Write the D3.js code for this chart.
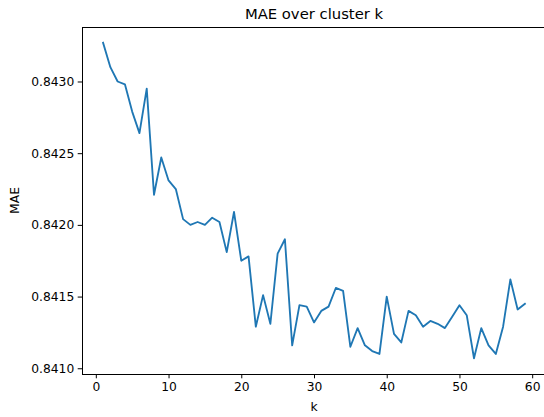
<!DOCTYPE html>
<html>
<head>
<meta charset="utf-8">
<script src="https://cdn.jsdelivr.net/npm/d3@7"></script>
<style>
  html, body { margin: 0; padding: 0; background: #fff; }
  svg { display: block; font-family: "DejaVu Sans", sans-serif; }
</style>
</head>
<body>
<svg id="chart" width="544" height="417"></svg>
<script>
// Cluster counts k and the MAE measured for each
const kValues = d3.range(1, 60);
const maeValues = [
  0.84327, 0.84310, 0.84300, 0.84298, 0.84279, 0.84264, 0.84295, 0.84221, 0.84247, 0.84231,
  0.84225, 0.84204, 0.84200, 0.84202, 0.84200, 0.84205, 0.84202, 0.84181, 0.84209, 0.84175,
  0.84178, 0.84129, 0.84151, 0.84131, 0.84180, 0.84190, 0.84116, 0.84144, 0.84143, 0.84132,
  0.84140, 0.84143, 0.84156, 0.84154, 0.84115, 0.84128, 0.84116, 0.84112, 0.84110, 0.84150,
  0.84124, 0.84118, 0.84140, 0.84137, 0.84129, 0.84133, 0.84131, 0.84128, 0.84136, 0.84144,
  0.84137, 0.84107, 0.84128, 0.84116, 0.84110, 0.84129, 0.84162, 0.84141, 0.84145
];
const xTicks = [0, 10, 20, 30, 40, 50, 60];
const yTicks = [0.8410, 0.8415, 0.8420, 0.8425, 0.8430];

const titleText = "MAE over cluster k";
const xLabel = "k";
const yLabel = "MAE";

const data = kValues.map((k, i) => ({ k, v: maeValues[i] }));

const svg = d3.select("#chart");
const plot = { left: 82, top: 27, right: 546, bottom: 374 };

// 5% padding around the data range on both axes
function padded(ext) {
  const p = (ext[1] - ext[0]) * 0.05;
  return [ext[0] - p, ext[1] + p];
}

const x = d3.scaleLinear()
  .domain(padded(d3.extent(kValues)))
  .range([plot.left, plot.right]);
const y = d3.scaleLinear()
  .domain(padded(d3.extent(maeValues)))
  .range([plot.bottom, plot.top]);

const fontPx = 12.3;
const tickLen = 4.3;

// Line
svg.append("path")
  .datum(data)
  .attr("fill", "none")
  .attr("stroke", "#1f77b4")
  .attr("stroke-width", 1.85)
  .attr("stroke-linejoin", "round")
  .attr("stroke-linecap", "square")
  .attr("d", d3.line().x(d => x(d.k)).y(d => y(d.v)));

// Axes
const xAxis = svg.append("g")
  .attr("transform", `translate(0,${plot.bottom})`)
  .call(d3.axisBottom(x).tickValues(xTicks).tickFormat(d3.format("d"))
    .tickSizeInner(tickLen).tickSizeOuter(0).tickPadding(3.5));
const yAxis = svg.append("g")
  .attr("transform", `translate(${plot.left},0)`)
  .call(d3.axisLeft(y).tickValues(yTicks).tickFormat(d3.format(".4f"))
    .tickSizeInner(tickLen).tickSizeOuter(0).tickPadding(3.5));

[xAxis, yAxis].forEach(g => {
  g.select(".domain").remove();
  g.selectAll(".tick line").attr("stroke", "#000").attr("stroke-width", 1);
  g.selectAll(".tick text")
    .attr("fill", "#000")
    .style("font-size", fontPx + "px")
    .style("font-family", "DejaVu Sans, sans-serif");
});

// Frame
svg.append("rect")
  .attr("x", plot.left)
  .attr("y", plot.top)
  .attr("width", plot.right - plot.left)
  .attr("height", plot.bottom - plot.top)
  .attr("fill", "none")
  .attr("stroke", "#000")
  .attr("stroke-width", 1)
  .attr("shape-rendering", "crispEdges");

// Title and axis labels
svg.append("text")
  .attr("x", (plot.left + plot.right) / 2)
  .attr("y", 19)
  .attr("text-anchor", "middle")
  .style("font-size", "14.8px")
  .text(titleText);

svg.append("text")
  .attr("x", (plot.left + plot.right) / 2)
  .attr("y", 411)
  .attr("text-anchor", "middle")
  .style("font-size", fontPx + "px")
  .text(xLabel);

svg.append("text")
  .attr("transform", `translate(19,${(plot.top + plot.bottom) / 2}) rotate(-90)`)
  .attr("text-anchor", "middle")
  .style("font-size", fontPx + "px")
  .text(yLabel);
</script>
</body>
</html>
